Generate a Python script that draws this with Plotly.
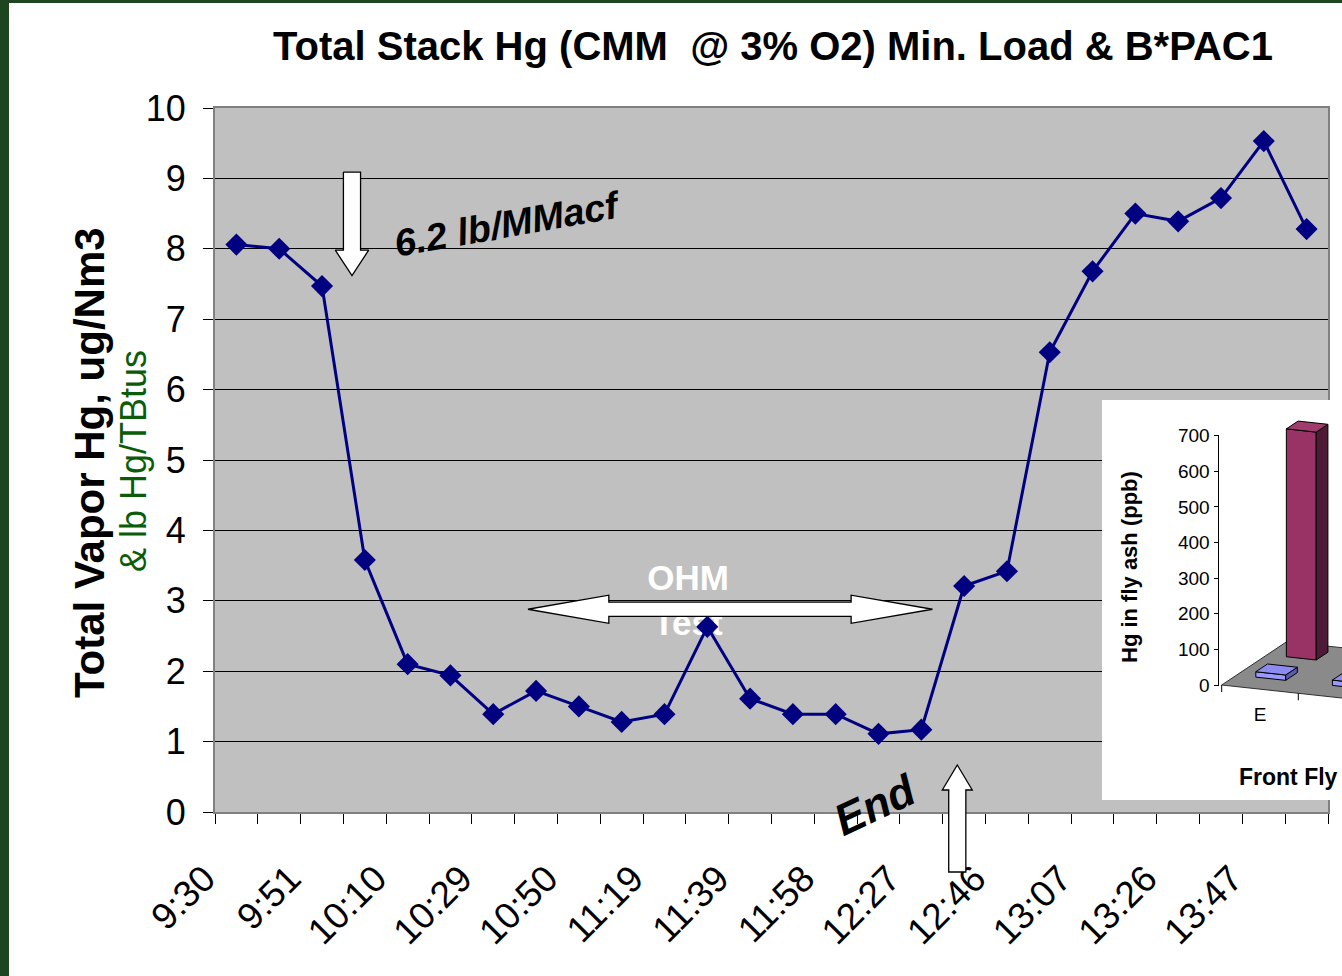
import plotly.graph_objects as go

# ------------------------------------------------------------------ data
time_labels = ["9:30", "9:51", "10:10", "10:29", "10:50", "11:19", "11:39",
               "11:58", "12:27", "12:46", "13:07", "13:26", "13:47"]
hg_total = [8.06, 8.00, 7.47, 3.58, 2.10, 1.94, 1.39, 1.72, 1.50, 1.28, 1.39,
            2.63, 1.61, 1.39, 1.39, 1.11, 1.17, 3.21, 3.42, 6.53, 7.68, 8.50,
            8.39, 8.72, 9.53, 8.28]
sample_idx = list(range(len(hg_total)))
label_idx = sample_idx[::2]
y_ticks = list(range(0, 11))

ash_categories = ["E", "F"]
ash_front = [15, 15]        # front row (blue)
ash_back = [640, None]      # back row (magenta); F is outside the picture
ash_ticks = [0, 100, 200, 300, 400, 500, 600, 700]

# ------------------------------------------------------------------ layout geometry
W, H = 1342, 976
L, R, T, B = 215, 0, 108, 164
PW, PH = W - L - R, H - T - B
MAIN_RIGHT_PX = 1328
FONT = "Liberation Sans, Arial, sans-serif"


def pxx(px):
    return (px - L) / PW


def pxy(py):
    return (H - B - py) / PH


# inset (3-D column chart) geometry in pixels
INS_X0, INS_X1, INS_Y0, INS_Y1 = 1102, 1360, 400, 800
C0_PX, C0_PY = 1221.7, 685.0
CAT_W_PX = 76.6
VAL_PX = 0.3561
DEPTH_PX = (65.0, -43.3)
SLOPE_PX = 8.3
AXIS_PX = 1218.5

X2_RANGE = [(INS_X0 - C0_PX) / CAT_W_PX, (min(INS_X1, W) - C0_PX) / CAT_W_PX]
Y2_RANGE = [-(INS_Y1 - C0_PY) / VAL_PX, (C0_PY - INS_Y0) / VAL_PX]


def proj(c, s, v):
    x2 = c + s * DEPTH_PX[0] / CAT_W_PX
    y2 = v - c * SLOPE_PX / VAL_PX - s * DEPTH_PX[1] / VAL_PX
    return x2, y2


def poly(points, fill, line="black", width=1, xa="x2", ya="y2"):
    xs = [p[0] for p in points] + [points[0][0]]
    ys = [p[1] for p in points] + [points[0][1]]
    return go.Scatter(x=xs, y=ys, mode="lines", fill="toself", fillcolor=fill,
                      line=dict(color=line, width=width), hoverinfo="skip",
                      xaxis=xa, yaxis=ya, showlegend=False)


fig = go.Figure()

# ---------------- main chart annotations drawn as traces (for layering)
fig.add_trace(go.Scatter(x=[10.55], y=[2.96], mode="text", text=["OHM<br>Test"],
                         textposition="middle center",
                         textfont=dict(family=FONT, size=35, color="white", weight="bold"),
                         hoverinfo="skip", showlegend=False))

# double headed arrow (OHM test period)
ha_y, ha_sh, ha_hh = 2.88, 0.10, 0.20
ha_l, ha_lb, ha_rb, ha_r = 6.81, 8.70, 14.36, 16.26
fig.add_trace(poly([(ha_l, ha_y), (ha_lb, ha_y + ha_hh), (ha_lb, ha_y + ha_sh),
                    (ha_rb, ha_y + ha_sh), (ha_rb, ha_y + ha_hh), (ha_r, ha_y),
                    (ha_rb, ha_y - ha_hh), (ha_rb, ha_y - ha_sh), (ha_lb, ha_y - ha_sh),
                    (ha_lb, ha_y - ha_hh)], "white", width=1.3, xa="x", ya="y"))

# down arrow (injection start)
da_x, da_sw, da_hw = 2.70, 0.20, 0.39
da_top, da_base, da_tip = 9.09, 7.98, 7.62
fig.add_trace(poly([(da_x - da_sw, da_top), (da_x + da_sw, da_top), (da_x + da_sw, da_base),
                    (da_x + da_hw, da_base), (da_x, da_tip), (da_x - da_hw, da_base),
                    (da_x - da_sw, da_base)], "white", width=1.3, xa="x", ya="y"))

# main series
fig.add_trace(go.Scatter(x=sample_idx, y=hg_total, mode="lines+markers",
                         line=dict(color="#000080", width=3),
                         marker=dict(symbol="diamond", size=17, color="#000080"),
                         showlegend=False))

# ---------------- inset 3-D column chart
fig.add_trace(poly([(X2_RANGE[0] - 1, Y2_RANGE[0] - 100), (X2_RANGE[1] + 1, Y2_RANGE[0] - 100),
                    (X2_RANGE[1] + 1, Y2_RANGE[1] + 100), (X2_RANGE[0] - 1, Y2_RANGE[1] + 100)],
                   "white", line="white", width=0))
n_cat = len(ash_categories)
fig.add_trace(poly([proj(0, 0, 0), proj(n_cat, 0, 0), proj(n_cat, 1, 0), proj(0, 1, 0)],
                   "#8a8a8a", line="#303030", width=1))
# category tick marks on the floor front edge
tx, ty = [], []
for c in range(n_cat + 1):
    a = proj(c, 0, 0)
    tx += [a[0], a[0], None]
    ty += [a[1], a[1] - 7 / VAL_PX, None]
fig.add_trace(go.Scatter(x=tx, y=ty, mode="lines", line=dict(color="black", width=1),
                         xaxis="x2", yaxis="y2", hoverinfo="skip", showlegend=False))

BAR_OFF, BAR_W, BAR_D = 0.25, 0.39, 0.18
ROW_S = {"front": 0.23, "back": 0.70}


def box(c, row, v, front_col, side_col, top_col):
    c0, c1 = c + BAR_OFF, c + BAR_OFF + BAR_W
    s0 = ROW_S[row]
    s1 = s0 + BAR_D
    fig.add_trace(poly([proj(c0, s0, 0), proj(c1, s0, 0), proj(c1, s0, v), proj(c0, s0, v)], front_col))
    fig.add_trace(poly([proj(c1, s0, 0), proj(c1, s1, 0), proj(c1, s1, v), proj(c1, s0, v)], side_col))
    fig.add_trace(poly([proj(c0, s0, v), proj(c1, s0, v), proj(c1, s1, v), proj(c0, s1, v)], top_col))


for i, v in enumerate(ash_back):
    if v is not None:
        box(i, "back", v, "#993366", "#4e1a35", "#a03c6e")
for i, v in enumerate(ash_front):
    if v is not None:
        box(i, "front", v, "#9999ff", "#5a5ab0", "#8c8cf0")

ax2 = (AXIS_PX - C0_PX) / CAT_W_PX
fig.add_trace(go.Scatter(x=[ax2, ax2], y=[0, ash_ticks[-1]], mode="lines",
                         line=dict(color="black", width=1), xaxis="x2", yaxis="y2",
                         hoverinfo="skip", showlegend=False))

# ------------------------------------------------------------------ layout
fig.update_layout(
    width=W, height=H,
    margin=dict(l=L, r=R, t=T, b=B, pad=0),
    paper_bgcolor="white", plot_bgcolor="#C0C0C0",
    font=dict(family=FONT, color="black"),
    showlegend=False,
    title=dict(text="<b>Total Stack Hg (CMM\u00a0 @ 3% O2) Min. Load & B*PAC1</b>",
               x=773 / W, xanchor="center", y=1 - 46 / H, yanchor="middle",
               xref="container", yref="container",
               font=dict(family=FONT, size=40, color="black")),
    xaxis=dict(domain=[0, pxx(MAIN_RIGHT_PX)], range=[-0.5, len(hg_total) - 0.5],
               tickmode="array", tickvals=label_idx, ticktext=time_labels,
               tickangle=-45, ticks="", tickfont=dict(size=37, color="black"),
               ticklabelstandoff=28, ticklabelshift=-32,
               showgrid=False, zeroline=False, showline=True, linecolor="#808080",
               linewidth=2, mirror=True,
               minor=dict(tickmode="linear", tick0=-0.5, dtick=1, ticks="outside",
                          ticklen=10, tickcolor="black", tickwidth=1, showgrid=False)),
    yaxis=dict(range=[0, 10], tickmode="array", tickvals=y_ticks,
               ticks="outside", ticklen=10, tickcolor="black", tickwidth=1,
               tickfont=dict(size=36, color="black"), ticklabelstandoff=10,
               showgrid=True, gridcolor="black", gridwidth=1, zeroline=False,
               showline=True, linecolor="#808080", linewidth=2, mirror=True),
    xaxis2=dict(domain=[pxx(INS_X0), 1.0], range=X2_RANGE, anchor="free",
                position=pxy(701), tickmode="array",
                tickvals=[proj(i + 0.5, 0, 0)[0] for i in range(n_cat)],
                ticktext=ash_categories, ticks="", tickfont=dict(size=19, color="black"),
                showgrid=False, zeroline=False, showline=False),
    yaxis2=dict(domain=[pxy(INS_Y1), pxy(INS_Y0)], range=Y2_RANGE, anchor="free",
                position=pxx(AXIS_PX), tickmode="array", tickvals=ash_ticks,
                ticks="outside", ticklen=5, tickcolor="black",
                tickfont=dict(size=19, color="black"),
                showgrid=False, zeroline=False, showline=False),
)

# frame (dark green slide border)
fig.add_shape(type="rect", xref="paper", yref="paper", x0=pxx(0), x1=pxx(9), y0=pxy(H), y1=pxy(0),
              fillcolor="#1d4620", line=dict(width=0), layer="above")
fig.add_shape(type="rect", xref="paper", yref="paper", x0=pxx(0), x1=pxx(W), y0=pxy(3), y1=pxy(0),
              fillcolor="#1d4620", line=dict(width=0), layer="above")

# up arrow ("End") crossing the axis
ua_x, ua_sw, ua_hw = 16.84, 0.20, 0.35
ua_tip, ua_base, ua_bot = pxy(765), pxy(790), pxy(872)
path = (f"M {ua_x},{ua_tip} L {ua_x + ua_hw},{ua_base} L {ua_x + ua_sw},{ua_base} "
        f"L {ua_x + ua_sw},{ua_bot} L {ua_x - ua_sw},{ua_bot} L {ua_x - ua_sw},{ua_base} "
        f"L {ua_x - ua_hw},{ua_base} Z")
fig.add_shape(type="path", xref="x", yref="paper", path=path, fillcolor="white",
              line=dict(color="black", width=1.3), layer="above")

# text annotations
fig.add_annotation(text="<b>Total Vapor Hg, ug/Nm3</b>", xref="paper", yref="paper",
                   x=pxx(89), y=pxy(463), xanchor="center", yanchor="middle",
                   textangle=-90, showarrow=False,
                   font=dict(family=FONT, size=42, color="black"))
fig.add_annotation(text="& lb Hg/TBtus", xref="paper", yref="paper",
                   x=pxx(133), y=pxy(461), xanchor="center", yanchor="middle",
                   textangle=-90, showarrow=False,
                   font=dict(family=FONT, size=36, color="#0a5c0a"))
fig.add_annotation(text="<b><i>6.2 lb/MMacf</i></b>", xref="x", yref="y", x=6.34, y=8.35,
                   xanchor="center", yanchor="middle", textangle=-10, showarrow=False,
                   font=dict(family=FONT, size=38, color="black"))
fig.add_annotation(text="<b><i>End</i></b>", xref="x", yref="y", x=14.92, y=0.10,
                   xanchor="center", yanchor="middle", textangle=-25, showarrow=False,
                   font=dict(family=FONT, size=44, color="black"))
fig.add_annotation(text="<b>Hg in fly ash (ppb)</b>", xref="paper", yref="paper",
                   x=pxx(1129), y=pxy(567), xanchor="center", yanchor="middle",
                   textangle=-90, showarrow=False,
                   font=dict(family=FONT, size=22, color="black"))
fig.add_annotation(text="<b>Front Fly</b>", xref="paper", yref="paper",
                   x=pxx(1237), y=pxy(777), xanchor="left", yanchor="middle", showarrow=False,
                   font=dict(family=FONT, size=23, color="black"))

fig.write_html("out.html")
